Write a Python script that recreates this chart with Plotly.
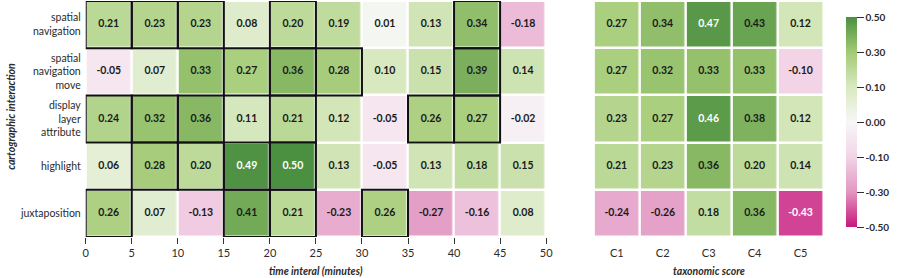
import numpy as np
import plotly.graph_objects as go

# ---------------- data ----------------
interactions = ["spatial<br>navigation", "spatial<br>navigation<br>move",
                "display<br>layer<br>attribute", "highlight", "juxtaposition"]
time_edges = [0, 5, 10, 15, 20, 25, 30, 35, 40, 45, 50]
time_values = [
    [0.21, 0.23, 0.23, 0.08, 0.20, 0.19, 0.01, 0.13, 0.34, -0.18],
    [-0.05, 0.07, 0.33, 0.27, 0.36, 0.28, 0.10, 0.15, 0.39, 0.14],
    [0.24, 0.32, 0.36, 0.11, 0.21, 0.12, -0.05, 0.26, 0.27, -0.02],
    [0.06, 0.28, 0.20, 0.49, 0.50, 0.13, -0.05, 0.13, 0.18, 0.15],
    [0.26, 0.07, -0.13, 0.41, 0.21, -0.23, 0.26, -0.27, -0.16, 0.08],
]
time_significant = [
    [1, 1, 1, 0, 1, 0, 0, 0, 1, 0],
    [0, 0, 0, 1, 1, 1, 0, 0, 1, 0],
    [1, 1, 1, 0, 1, 0, 0, 1, 1, 0],
    [0, 1, 1, 1, 1, 0, 0, 0, 0, 0],
    [1, 0, 0, 1, 1, 0, 1, 0, 0, 0],
]
taxo_labels = ["C1", "C2", "C3", "C4", "C5"]
taxo_values = [
    [0.27, 0.34, 0.47, 0.43, 0.12],
    [0.27, 0.32, 0.33, 0.33, -0.10],
    [0.23, 0.27, 0.46, 0.38, 0.12],
    [0.21, 0.23, 0.36, 0.20, 0.14],
    [-0.24, -0.26, 0.18, 0.36, -0.43],
]
cbar_ticks = [-0.5, -0.3, -0.1, 0.0, 0.1, 0.3, 0.5]

# ---------------- styling ----------------
FONT = "Lato"
TXT = "#2b2b2b"
W, H = 900, 278

# colorbar has equally spaced ticks -> piecewise-linear colour scale
cb_pos = list(range(-3, 4))
def tf(v):
    return np.interp(np.asarray(v, dtype=float), cbar_ticks, cb_pos)

colorscale = [
    [0.0, "rgb(200,22,125)"],
    [1 / 6, "rgb(226,150,194)"],
    [2 / 6, "rgb(242,212,230)"],
    [0.5, "rgb(247,247,247)"],
    [4 / 6, "rgb(216,233,192)"],
    [5 / 6, "rgb(162,202,116)"],
    [1.0, "rgb(75,143,64)"],
]

tv = np.array(time_values)
xv = np.array(taxo_values)
rows = list(range(len(interactions)))
edges = np.array(time_edges, dtype=float)
centers = (edges[:-1] + edges[1:]) / 2

def txtcol(v):
    return "white" if (v >= 0.45 or v <= -0.40) else "#1a1a1a"

fig = go.Figure()

fig.add_trace(go.Heatmap(
    z=tf(tv), x=edges, y=rows, customdata=tv, coloraxis="coloraxis",
    xgap=2.5, ygap=2.5, hovertemplate="%{customdata:.2f}<extra></extra>",
    xaxis="x", yaxis="y"))
fig.add_trace(go.Heatmap(
    z=tf(xv), x=taxo_labels, y=rows, customdata=xv, coloraxis="coloraxis",
    xgap=2.5, ygap=2.5, hovertemplate="%{customdata:.2f}<extra></extra>",
    xaxis="x2", yaxis="y2"))

# cell labels
for vals, xs, xa, ya in [(tv, centers, "x", "y"), (xv, taxo_labels, "x2", "y2")]:
    tx, ty, tt, tc = [], [], [], []
    for r in rows:
        for c in range(vals.shape[1]):
            tx.append(xs[c]); ty.append(r)
            tt.append(f"{vals[r, c]:.2f}"); tc.append(txtcol(vals[r, c]))
    fig.add_trace(go.Scatter(
        x=tx, y=ty, text=tt, mode="text", hoverinfo="skip", showlegend=False,
        textfont=dict(family=FONT, size=10.5, color=tc, weight="bold"),
        xaxis=xa, yaxis=ya))

# significance outlines
shapes = []
for r in rows:
    for c in range(len(time_significant[r])):
        if time_significant[r][c]:
            shapes.append(dict(type="rect", xref="x", yref="y",
                               x0=edges[c], x1=edges[c + 1], y0=r - 0.5, y1=r + 0.5,
                               line=dict(color="#111", width=2), layer="above"))

ydom = [(H - 237) / H, (H - 1) / H]
fig.update_layout(
    width=W, height=H, margin=dict(l=0, r=0, t=0, b=0),
    paper_bgcolor="white", plot_bgcolor="white",
    font=dict(family=FONT, size=10.5, color=TXT),
    showlegend=False, shapes=shapes,
    coloraxis=dict(
        colorscale=colorscale, cmin=-3, cmax=3,
        colorbar=dict(
            x=856 / W, xanchor="left", y=(H - 122) / H, yanchor="middle",
            thickness=11, len=230, lenmode="pixels", outlinewidth=0,
            tickvals=cb_pos, ticktext=[f"{t:.2f}" for t in cbar_ticks],
            ticks="outside", ticklen=7, tickwidth=1.3, tickcolor="#333",
            tickfont=dict(family=FONT, size=10, color=TXT, weight="bold"))),
    xaxis=dict(domain=[85 / W, 558 / W], range=[0, 50], tickvals=time_edges,
               ticks="outside", ticklen=6, tickcolor="#333", tickwidth=1,
               showgrid=False, zeroline=False, showline=False,
               tickfont=dict(size=11), anchor="y"),
    yaxis=dict(domain=ydom, range=[len(rows) - 0.5, -0.5],
               tickvals=rows, ticktext=interactions, ticks="", ticklabelstandoff=4,
               showgrid=False, zeroline=False, showline=False,
               tickfont=dict(size=10.5), anchor="x"),
    xaxis2=dict(domain=[607 / W, 843 / W], range=[-0.5, 4.5],
                ticks="outside", ticklen=6, tickcolor="rgba(0,0,0,0)",
                showgrid=False, zeroline=False, showline=False,
                tickfont=dict(size=11), anchor="y2"),
    yaxis2=dict(domain=ydom, range=[len(rows) - 0.5, -0.5], showticklabels=False,
                ticks="", showgrid=False, zeroline=False, showline=False, anchor="x2"),
    annotations=[
        dict(text="<i>time interal (minutes)</i>", x=(85 + 558) / 2 / W, y=(H - 271) / H,
             xref="paper", yref="paper", showarrow=False, xanchor="center", yanchor="middle",
             font=dict(family=FONT, size=10.5, color=TXT, weight="bold")),
        dict(text="<i>taxonomic score</i>", x=(607 + 843) / 2 / W, y=(H - 271) / H,
             xref="paper", yref="paper", showarrow=False, xanchor="center", yanchor="middle",
             font=dict(family=FONT, size=10.5, color=TXT, weight="bold")),
        dict(text="<i>cartographic interaction</i>", x=8 / W, y=(H - 116) / H, textangle=-90,
             xref="paper", yref="paper", showarrow=False, xanchor="center", yanchor="middle",
             font=dict(family=FONT, size=10.5, color=TXT, weight="bold")),
    ],
)

fig.write_html("out.html")
